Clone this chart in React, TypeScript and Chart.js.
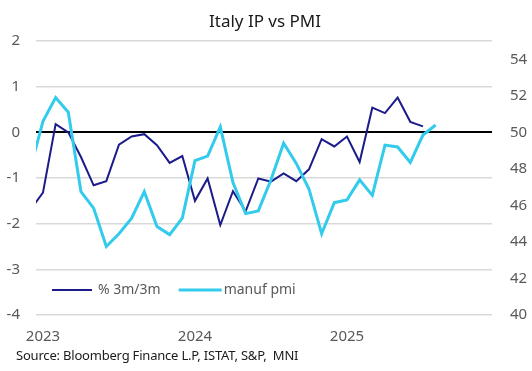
import React, { useEffect, useRef } from 'react';
import { Chart, registerables } from 'chart.js';

Chart.register(...registerables);

// Monthly observations, Dec 2022 .. Aug 2025
const months = [
  'Dec 2022',
  'Jan 2023', 'Feb 2023', 'Mar 2023', 'Apr 2023', 'May 2023', 'Jun 2023',
  'Jul 2023', 'Aug 2023', 'Sep 2023', 'Oct 2023', 'Nov 2023', 'Dec 2023',
  'Jan 2024', 'Feb 2024', 'Mar 2024', 'Apr 2024', 'May 2024', 'Jun 2024',
  'Jul 2024', 'Aug 2024', 'Sep 2024', 'Oct 2024', 'Nov 2024', 'Dec 2024',
  'Jan 2025', 'Feb 2025', 'Mar 2025', 'Apr 2025', 'May 2025', 'Jun 2025',
  'Jul 2025', 'Aug 2025',
];

// Italy industrial production, % 3m/3m (left axis)
const ipValues: (number | null)[] = [
  -1.70,
  -1.32, 0.18, 0.0, -0.54, -1.16, -1.07, -0.27, -0.09, -0.04, -0.28, -0.67, -0.52,
  -1.50, -1.01, -2.03, -1.29, -1.73, -1.01, -1.08, -0.90, -1.07, -0.81, -0.15, -0.31,
  -0.09, -0.65, 0.54, 0.42, 0.76, 0.23, 0.13,
  null,
];

// Italy manufacturing PMI (right axis)
const pmiValues: number[] = [
  48.0,
  50.6, 51.9, 51.1, 46.75, 45.85, 43.75, 44.45, 45.3, 46.75, 44.85, 44.4, 45.3,
  48.45, 48.7, 50.3, 47.25, 45.55, 45.7, 47.4, 49.4, 48.3, 46.9, 44.45, 46.15,
  46.3, 47.4, 46.55, 49.3, 49.2, 48.35, 49.85,
  50.4,
];

const yearLabels = ['2023', '2024', '2025'];
const yearStartMonths = ['Jan 2023', 'Jan 2024', 'Jan 2025'];
const leftTicks = [-4, -3, -2, -1, 0, 1, 2];
const rightTicks = [40, 42, 44, 46, 48, 50, 52, 54];

const seriesNames = ['% 3m/3m', 'manuf pmi'];
const NAVY = '#1b1b8a';
const CYAN = '#33cbec';
const FONT = '"Noto Sans", sans-serif';

const monthPos = (m: string) => months.indexOf(m) - 1; // Jan 2023 = 0

export default function App() {
  const ref = useRef<HTMLCanvasElement | null>(null);

  useEffect(() => {
    document.body.style.margin = '0';
    const canvas = ref.current;
    if (!canvas) return;

    const overlay = {
      id: 'overlay',
      afterDraw(chart: any) {
        const { ctx, chartArea } = chart;
        ctx.save();
        // title
        ctx.fillStyle = '#1a1a1a';
        ctx.font = `17px ${FONT}`;
        ctx.textAlign = 'center';
        ctx.textBaseline = 'alphabetic';
        ctx.fillText('Italy IP vs PMI', 265, 27);
        // source
        ctx.font = `13px ${FONT}`;
        ctx.textAlign = 'left';
        ctx.fillStyle = '#1a1a1a';
        (ctx as any).letterSpacing = '-0.2px';
        ctx.fillText('Source: Bloomberg Finance L.P, ISTAT, S&P,  MNI', 16, 360);
        (ctx as any).letterSpacing = '0px';
        // legend
        const ly = chartArea.bottom - 25;
        let x = chartArea.left + 16;
        ctx.font = `14px ${FONT}`;
        ctx.textBaseline = 'middle';
        ctx.fillStyle = '#595959';
        const items = [
          { name: seriesNames[0], color: NAVY, w: 2, len: 40, gap: 6 },
          { name: seriesNames[1], color: CYAN, w: 3, len: 43, gap: 2 },
        ];
        items.forEach((it) => {
          ctx.strokeStyle = it.color;
          ctx.lineWidth = it.w;
          ctx.beginPath();
          ctx.moveTo(x, ly);
          ctx.lineTo(x + it.len, ly);
          ctx.stroke();
          x += it.len + it.gap;
          ctx.fillText(it.name, x, ly);
          x += ctx.measureText(it.name).width + 18;
        });
        ctx.restore();
      },
    };

    const chart = new Chart(canvas, {
      type: 'line',
      data: {
        datasets: [
          {
            label: seriesNames[0],
            data: months.map((m, i) => ({ x: monthPos(m), y: ipValues[i] })),
            borderColor: NAVY,
            borderWidth: 2,
            pointRadius: 0,
            tension: 0,
            yAxisID: 'y',
            clip: 0,
            order: 1,
          },
          {
            label: seriesNames[1],
            data: months.map((m, i) => ({ x: monthPos(m), y: pmiValues[i] })),
            borderColor: CYAN,
            borderWidth: 3,
            pointRadius: 0,
            tension: 0,
            yAxisID: 'y1',
            clip: 0,
            order: 0,
          },
        ],
      } as any,
      options: {
        animation: false,
        responsive: true,
        maintainAspectRatio: false,
        layout: { padding: { top: 41, bottom: 16, left: 0, right: 0 } },
        plugins: { legend: { display: false }, title: { display: false }, tooltip: { enabled: false } },
        scales: {
          x: {
            type: 'linear',
            min: -0.55,
            max: 35.45,
            grid: { display: false, drawTicks: false },
            border: { display: false },
            afterBuildTicks: (axis: any) => {
              axis.ticks = yearStartMonths.map((m) => ({ value: monthPos(m) }));
            },
            afterFit: (s: any) => { s.height = 40; },
            ticks: {
              autoSkip: false,
              maxRotation: 0,
              padding: 13,
              color: '#595959',
              font: { family: FONT, size: 15 },
              callback: (v: any) => {
                const idx = yearStartMonths.findIndex((m) => monthPos(m) === v);
                return idx >= 0 ? yearLabels[idx] : '';
              },
            },
          },
          y: {
            position: 'left',
            min: leftTicks[0],
            max: leftTicks[leftTicks.length - 1],
            afterBuildTicks: (axis: any) => { axis.ticks = leftTicks.map((v) => ({ value: v })); },
            afterFit: (s: any) => { s.width = 36; },
            grid: {
              drawTicks: false,
              color: (c: any) => (c.tick && c.tick.value === 0 ? '#000000' : '#d9d9d9'),
              lineWidth: (c: any) => (c.tick && c.tick.value === 0 ? 2 : 1.5),
            },
            border: { display: false },
            ticks: {
              padding: 16,
              color: '#595959',
              font: { family: FONT, size: 15 },
            },
          },
          y1: {
            position: 'right',
            min: 40,
            max: 55,
            afterBuildTicks: (axis: any) => { axis.ticks = rightTicks.map((v) => ({ value: v })); },
            afterFit: (s: any) => { s.width = 40; },
            grid: { display: false, drawTicks: false },
            border: { display: false },
            ticks: {
              padding: 18,
              color: '#595959',
              font: { family: FONT, size: 15 },
            },
          },
        },
      } as any,
      plugins: [overlay],
    });

    return () => chart.destroy();
  }, []);

  return (
    <div style={{ width: 532, height: 371, position: 'relative', background: '#ffffff' }}>
      <canvas ref={ref} />
    </div>
  );
}
